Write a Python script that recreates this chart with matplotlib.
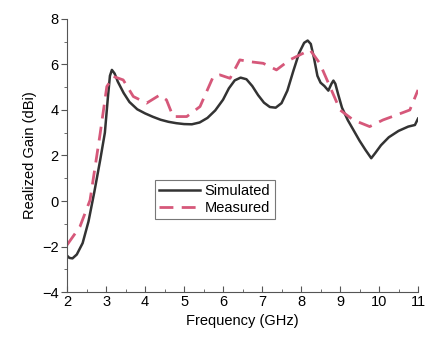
import numpy as np
import matplotlib.pyplot as plt
from matplotlib.ticker import MultipleLocator

plt.rcParams['font.family'] = ['Liberation Sans', 'DejaVu Sans']

# simulated gain
freq_sim = [2.0, 2.06, 2.14, 2.25, 2.4, 2.55, 2.7, 2.85, 2.97, 3.05, 3.1, 3.15, 3.22,
            3.3, 3.45, 3.6, 3.8, 4.0, 4.2, 4.4, 4.6, 4.8, 5.0, 5.2, 5.4, 5.6, 5.8,
            6.0, 6.15, 6.3, 6.45, 6.6, 6.75, 6.9, 7.05, 7.2, 7.35, 7.5, 7.65, 7.8,
            7.95, 8.08, 8.17, 8.25, 8.33, 8.42, 8.5, 8.6, 8.7, 8.78, 8.83, 8.88,
            8.95, 9.05, 9.2, 9.35, 9.5, 9.65, 9.8, 9.9, 10.05, 10.25, 10.5, 10.75,
            10.92, 11.0]
gain_sim = [-2.4, -2.5, -2.52, -2.35, -1.85, -0.9, 0.4, 1.8, 3.0, 4.6, 5.5, 5.76, 5.6,
            5.25, 4.75, 4.35, 4.03, 3.85, 3.7, 3.57, 3.48, 3.42, 3.38, 3.37, 3.45, 3.65, 3.98,
            4.45, 4.95, 5.3, 5.42, 5.35, 5.05, 4.65, 4.32, 4.13, 4.1, 4.3, 4.85, 5.7,
            6.5, 6.95, 7.05, 6.9, 6.3, 5.5, 5.2, 5.05, 4.85, 5.15, 5.29, 5.15,
            4.7, 4.1, 3.55, 3.1, 2.65, 2.25, 1.88, 2.1, 2.45, 2.8, 3.08, 3.27,
            3.34, 3.62]

# measured gain
freq_meas = [2.0, 2.33, 2.59, 2.85, 3.02, 3.19, 3.44, 3.7, 4.04, 4.38, 4.55, 4.72,
             5.07, 5.41, 5.75, 5.92, 6.18, 6.43, 6.69, 7.03, 7.37, 7.71, 7.97,
             8.23, 8.48, 8.74, 9.0, 9.34, 9.76, 10.1, 10.45, 10.79, 11.0]
gain_meas = [-1.93, -1.13, 0.04, 2.97, 5.03, 5.47, 5.32, 4.59, 4.3, 4.66, 4.44, 3.71,
             3.71, 4.15, 5.47, 5.54, 5.39, 6.2, 6.12, 6.05, 5.76, 6.2, 6.42,
             6.64, 6.05, 5.03, 4.0, 3.56, 3.27, 3.56, 3.78, 4.0, 4.88]

fig = plt.figure(figsize=(4.27, 3.44), dpi=100)
ax = fig.add_axes([0.157, 0.151, 0.822, 0.794])

ax.plot(freq_sim, gain_sim, color='#333333', lw=1.8, label='Simulated')
ax.plot(freq_meas, gain_meas, color='#d6587a', lw=2.0, ls=(0, (5, 3)), label='Measured')

ax.set_xlim(2, 11)
ax.set_ylim(-4, 8)
ax.xaxis.set_major_locator(MultipleLocator(1))
ax.xaxis.set_minor_locator(MultipleLocator(0.5))
ax.yaxis.set_major_locator(MultipleLocator(2))
ax.yaxis.set_minor_locator(MultipleLocator(1))
ax.tick_params(axis='x', which='both', direction='in', labelsize=10.5, pad=2)
ax.tick_params(axis='y', which='both', direction='out', labelsize=10.5, pad=2)
ax.tick_params(which='major', length=4, color='#555555')
ax.tick_params(which='minor', length=2, color='#555555')

for s in ['top', 'right']:
    ax.spines[s].set_visible(False)
for s in ['left', 'bottom']:
    ax.spines[s].set_color('#555555')

ax.set_xlabel('Frequency (GHz)', fontsize=10.5, labelpad=4)
ax.set_ylabel('Realized Gain (dBi)', fontsize=10.5, labelpad=4)

leg = ax.legend(loc='lower left', bbox_to_anchor=(0.23, 0.24), fontsize=10.5,
                frameon=True, fancybox=False, edgecolor='#555555',
                handlelength=2.8, borderpad=0.3, labelspacing=0.2, handletextpad=0.3)
leg.get_frame().set_linewidth(0.8)

fig.savefig('out.png', dpi=100)
